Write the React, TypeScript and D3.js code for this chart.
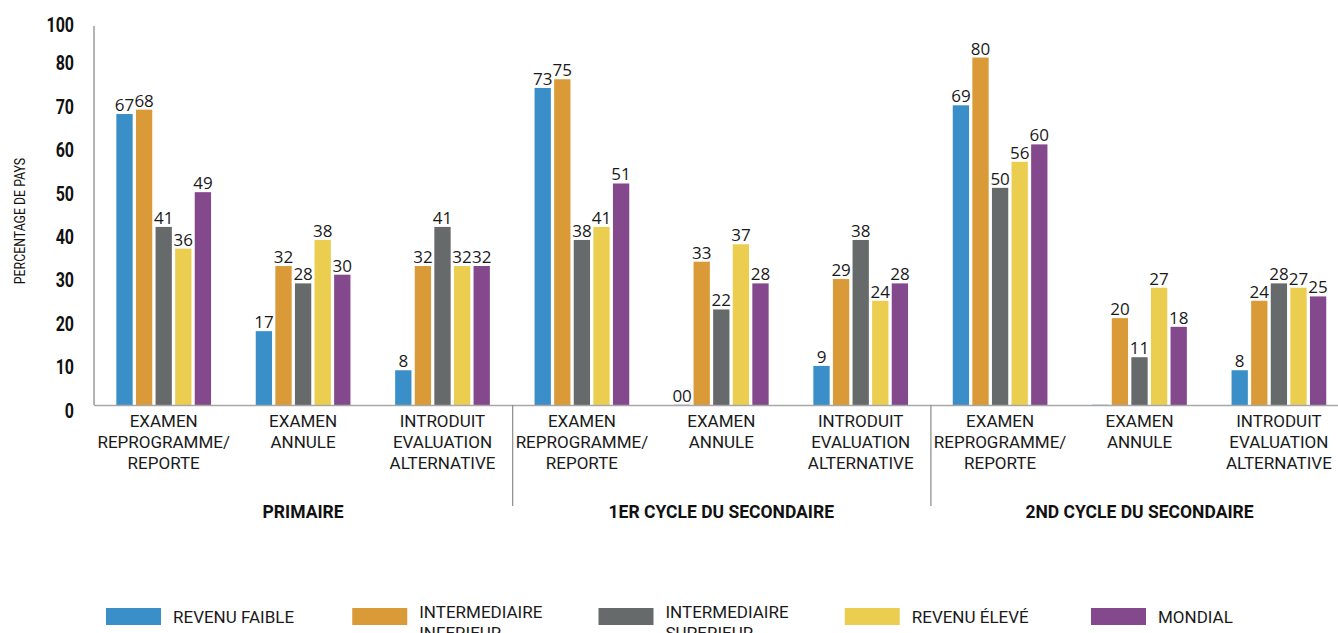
import React from "react";
import * as d3 from "d3";

const categories = [
  "EXAMEN|REPROGRAMME/|REPORTE",
  "EXAMEN|ANNULE",
  "INTRODUIT|EVALUATION|ALTERNATIVE",
  "EXAMEN|REPROGRAMME/|REPORTE",
  "EXAMEN|ANNULE",
  "INTRODUIT|EVALUATION|ALTERNATIVE",
  "EXAMEN|REPROGRAMME/|REPORTE",
  "EXAMEN|ANNULE",
  "INTRODUIT|EVALUATION|ALTERNATIVE",
];
const groups = ["PRIMAIRE", "1ER CYCLE DU SECONDAIRE", "2ND CYCLE DU SECONDAIRE"];

const seriesNames = ["REVENU FAIBLE", "INTERMEDIAIRE|INFERIEUR", "INTERMEDIAIRE|SUPERIEUR", "REVENU ÉLEVÉ", "MONDIAL"];
const seriesColors = ["#3b8fc9", "#d99a37", "#676a6a", "#ebcd50", "#84488c"];

const revenuFaible = [67, 17, 8, 73, 0, 9, 69, 0, 8];
const intermInferieur = [68, 32, 32, 75, 33, 29, 80, 20, 24];
const intermSuperieur = [41, 28, 41, 38, 22, 38, 50, 11, 28];
const revenuEleve = [36, 38, 32, 41, 37, 24, 56, 27, 27];
const mondial = [49, 30, 32, 51, 28, 28, 60, 18, 25];
// labels shown for zero-valued bars (as printed in the source)
const zeroLabels = ["", "", "", "", "00", "", "", "", ""];

const tickValues = [0, 10, 20, 30, 40, 50, 60, 70, 80, 88.8];
const tickLabels = ["0", "10", "20", "30", "40", "50", "60", "70", "80", "100"];

const W = 1338;
const H = 633;

export default function App() {
  const series = [revenuFaible, intermInferieur, intermSuperieur, revenuEleve, mondial];
  const x = d3.scaleBand<number>().domain(d3.range(categories.length)).range([94, 1348.6]).padding(0);
  const inner = d3.scaleBand<number>().domain(d3.range(series.length)).range([-47.35, 47.35]).paddingInner(0.168).paddingOuter(0);
  const y = d3.scaleLinear().domain([0, 90]).range([405, 14.1]);
  const groupScale = d3.scaleBand<number>().domain(d3.range(groups.length)).range([94, 1348.6]);

  const labelFont = "Roboto, 'Liberation Sans', sans-serif";
  const valueFont = "'Open Sans', 'DejaVu Sans', sans-serif";
  const sx = 0.8;

  return (
    <svg width={W} height={H} style={{ position: "absolute", left: 0, top: 0, display: "block" }}>
      <rect width={W} height={H} fill="#fff" />
      {/* y tick labels (condensed) */}
      <g transform={`scale(${sx},1)`}>
        {tickValues.map((v, i) => (
          <text key={i} x={74 / sx} y={y(v) + 5.5} dominantBaseline="central" textAnchor="end"
            fontFamily={labelFont} fontWeight="bold" fontSize={20} fill="#111">
            {tickLabels[i]}
          </text>
        ))}
      </g>
      <g transform={`translate(25,221) rotate(-90) scale(0.85,1)`}>
        <text textAnchor="middle" fontFamily={labelFont} fontSize={14.5} fill="#111">PERCENTAGE DE PAYS</text>
      </g>

      {/* bars */}
      {categories.map((c, ci) => (
        <g key={ci} transform={`translate(${x(ci)! + x.bandwidth() / 2},0)`}>
          {series.map((s, si) => {
            const v = s[ci];
            const bx = inner(si)!;
            const label = v === 0 ? (si === 0 ? zeroLabels[ci] : "") : String(v);
            return (
              <g key={si}>
                {v > 0 && (
                  <rect x={bx} y={y(v)} width={inner.bandwidth()} height={y(0) - y(v)} fill={seriesColors[si]} />
                )}
                {v === 0 && (
                  <rect x={bx} y={y(0) - 1} width={inner.bandwidth()} height={1} fill="#cfe3ee" />
                )}
                {label && (
                  <text x={bx + inner.bandwidth() / 2} y={y(v) - 3} textAnchor="middle"
                    fontFamily={valueFont} fontSize={17} fill="#1a1a1a">{label}</text>
                )}
              </g>
            );
          })}
        </g>
      ))}

      {/* axes lines */}
      <line x1={94} x2={94} y1={26} y2={y(0)} stroke="#9a9a9a" strokeWidth={1.5} />
      <line x1={94} x2={W} y1={y(0) + 0.5} y2={y(0) + 0.5} stroke="#a8a8a8" strokeWidth={1.5} />
      {[3, 6].map((k) => (
        <line key={k} x1={x(k)! + 0.5} x2={x(k)! + 0.5} y1={y(0)} y2={506} stroke="#8a8a8a" strokeWidth={1.2} />
      ))}

      {/* category labels */}
      {categories.map((c, ci) => (
        <text key={ci} textAnchor="middle" fontFamily={labelFont} fontSize={17} fill="#1a1a1a">
          {c.split("|").map((line, li) => (
            <tspan key={li} x={x(ci)! + x.bandwidth() / 2} y={427 + li * 20.8}>{line}</tspan>
          ))}
        </text>
      ))}

      {/* group labels */}
      {groups.map((g, gi) => (
        <text key={gi} x={groupScale(gi)! + groupScale.bandwidth() / 2} y={518} textAnchor="middle"
          fontFamily={labelFont} fontWeight="bold" fontSize={17.5} fill="#111">{g}</text>
      ))}

      {/* legend */}
      {seriesNames.map((n, i) => {
        const lx = 106 + i * 246.25;
        const lines = n.split("|");
        return (
          <g key={i}>
            <rect x={lx} y={608} width={55} height={17} fill={seriesColors[i]} />
            <text fontFamily={labelFont} fontSize={17} fill="#1a1a1a">
              {lines.map((line, li) => (
                <tspan key={li} x={lx + 67} y={(lines.length === 1 ? 623 : 617.5) + li * 21.5}>{line}</tspan>
              ))}
            </text>
          </g>
        );
      })}
    </svg>
  );
}
